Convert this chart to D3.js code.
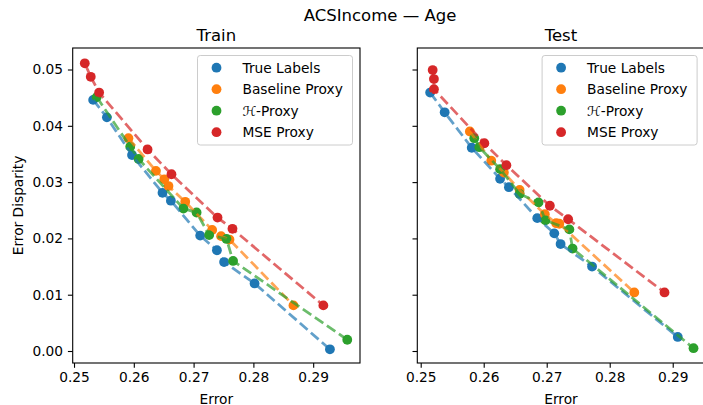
<!DOCTYPE html>
<html>
<head>
<meta charset="utf-8">
<script src="https://cdn.jsdelivr.net/npm/d3@7"></script>
<style>
  body { margin: 0; background: #fff; }
  svg { font-family: "DejaVu Sans", sans-serif; }
</style>
</head>
<body>
<div id="chart"></div>
<script>
// ---- data (error, error disparity) ----
const seriesNames = ["True Labels", "Baseline Proxy", "ℋ-Proxy", "MSE Proxy"];
const seriesColors = ["#1f77b4", "#ff7f0e", "#2ca02c", "#d62728"];

// Train
const trainTrueErr = [0.2532, 0.2555, 0.2597, 0.2648, 0.2662, 0.2711, 0.2739, 0.2751, 0.2802, 0.2928];
const trainTrueDisp = [0.0446, 0.0415, 0.0348, 0.0281, 0.0267, 0.0205, 0.0179, 0.0158, 0.0120, 0.0003];
const trainBaseErr = [0.2591, 0.2637, 0.2651, 0.2658, 0.2686, 0.2731, 0.2746, 0.2760, 0.2867];
const trainBaseDisp = [0.0378, 0.0320, 0.0305, 0.0293, 0.0265, 0.0215, 0.0204, 0.0198, 0.0081];
const trainHErr = [0.2538, 0.2594, 0.2608, 0.2683, 0.2705, 0.2726, 0.2755, 0.2766, 0.2957];
const trainHDisp = [0.0451, 0.0363, 0.0341, 0.0253, 0.0246, 0.0206, 0.0199, 0.0160, 0.0020];
const trainMseErr = [0.2518, 0.2528, 0.2542, 0.2623, 0.2663, 0.2740, 0.2765, 0.2917];
const trainMseDisp = [0.0511, 0.0487, 0.0459, 0.0358, 0.0314, 0.0237, 0.0217, 0.0081];

// Test
const testTrueErr = [0.2515, 0.2538, 0.2581, 0.2626, 0.2640, 0.2685, 0.2712, 0.2722, 0.2772, 0.2908];
const testTrueDisp = [0.0459, 0.0424, 0.0361, 0.0306, 0.0291, 0.0236, 0.0209, 0.0190, 0.0150, 0.0025];
const testBaseErr = [0.2578, 0.2612, 0.2632, 0.2657, 0.2697, 0.2715, 0.2720, 0.2839];
const testBaseDisp = [0.0390, 0.0338, 0.0317, 0.0286, 0.0243, 0.0227, 0.0226, 0.0104];
const testHErr = [0.2585, 0.2593, 0.2626, 0.2657, 0.2687, 0.2698, 0.2736, 0.2741, 0.2933];
const testHDisp = [0.0378, 0.0362, 0.0323, 0.0279, 0.0264, 0.0232, 0.0216, 0.0182, 0.0005];
const testMseErr = [0.2519, 0.2521, 0.2521, 0.2601, 0.2636, 0.2705, 0.2734, 0.2887];
const testMseDisp = [0.0499, 0.0483, 0.0465, 0.0369, 0.0330, 0.0258, 0.0234, 0.0104];

const xTicks = [0.25, 0.26, 0.27, 0.28, 0.29];
const yTicks = [0.00, 0.01, 0.02, 0.03, 0.04, 0.05];

const zip = (xs, ys) => xs.map((x, i) => ({ x: x, y: ys[i] }));

const panels = [
  {
    title: "Train",
    left: 72.7,
    xDomain: [0.24978, 0.29783],
    showYLabels: true,
    series: [
      zip(trainTrueErr, trainTrueDisp),
      zip(trainBaseErr, trainBaseDisp),
      zip(trainHErr, trainHDisp),
      zip(trainMseErr, trainMseDisp),
    ],
  },
  {
    title: "Test",
    left: 417.3,
    xDomain: [0.24946, 0.29506],
    showYLabels: false,
    series: [
      zip(testTrueErr, testTrueDisp),
      zip(testBaseErr, testBaseDisp),
      zip(testHErr, testHDisp),
      zip(testMseErr, testMseDisp),
    ],
  },
];

const width = 703;
const height = 405;
const axW = 287.3;
const axTop = 48;
const axBottom = 363;
const fs = 13.75;
const markerR = 4.9;

const svg = d3
  .select("#chart")
  .append("svg")
  .attr("width", width)
  .attr("height", height)
  .attr("viewBox", [0, 0, width, height]);

// shared y scale
const yScale = d3.scaleLinear().domain([-0.00213, 0.05382]).range([axBottom, axTop]);

svg
  .append("text")
  .attr("x", 380)
  .attr("y", 21)
  .attr("text-anchor", "middle")
  .style("font-size", "16.5px")
  .text("ACSIncome — Age");

panels.forEach((p) => {
  const xScale = d3.scaleLinear().domain(p.xDomain).range([p.left, p.left + axW]);

  const g = svg.append("g");

  // clip to the axes area
  const clipId = "clip-" + p.title;
  svg
    .append("clipPath")
    .attr("id", clipId)
    .append("rect")
    .attr("x", p.left)
    .attr("y", axTop)
    .attr("width", axW)
    .attr("height", axBottom - axTop);

  const plot = g.append("g").attr("clip-path", `url(#${clipId})`);

  // scatter first, dashed lines above (matplotlib zorder)
  p.series.forEach((pts, si) => {
    plot
      .append("g")
      .selectAll("circle")
      .data(pts)
      .join("circle")
      .attr("cx", (d) => xScale(d.x))
      .attr("cy", (d) => yScale(d.y))
      .attr("r", markerR)
      .attr("fill", seriesColors[si]);
  });

  const line = d3
    .line()
    .x((d) => xScale(d.x))
    .y((d) => yScale(d.y));

  p.series.forEach((pts, si) => {
    plot
      .append("path")
      .datum(pts)
      .attr("d", line)
      .attr("fill", "none")
      .attr("stroke", seriesColors[si])
      .attr("stroke-width", 2.75)
      .attr("stroke-opacity", 0.7)
      .attr("stroke-dasharray", "10.2,4.4");
  });

  // x axis
  const xAxis = g
    .append("g")
    .attr("transform", `translate(0,${axBottom})`)
    .call(d3.axisBottom(xScale).tickValues(xTicks).tickFormat(d3.format(".2f")).tickSizeOuter(0).tickSize(4.8).tickPadding(4.8));

  // y axis
  const yAxis = g
    .append("g")
    .attr("transform", `translate(${p.left},0)`)
    .call(
      d3
        .axisLeft(yScale)
        .tickValues(yTicks)
        .tickFormat(p.showYLabels ? d3.format(".2f") : () => "")
        .tickSizeOuter(0)
        .tickSize(4.8)
        .tickPadding(4.8)
    );

  [xAxis, yAxis].forEach((ax) => {
    ax.select(".domain").remove();
    ax.selectAll(".tick line").attr("stroke", "#000").attr("stroke-width", 1.1);
    ax.selectAll(".tick text")
      .attr("fill", "#000")
      .style("font-size", fs + "px")
      .style("font-family", "DejaVu Sans, sans-serif");
  });

  // frame
  g.append("rect")
    .attr("x", p.left)
    .attr("y", axTop)
    .attr("width", axW)
    .attr("height", axBottom - axTop)
    .attr("fill", "none")
    .attr("stroke", "#000")
    .attr("stroke-width", 1.1);

  // titles
  g.append("text")
    .attr("x", p.left + axW / 2)
    .attr("y", 41)
    .attr("text-anchor", "middle")
    .style("font-size", "16.5px")
    .text(p.title);

  g.append("text")
    .attr("x", p.left + axW / 2)
    .attr("y", 403.5)
    .attr("text-anchor", "middle")
    .style("font-size", fs + "px")
    .text("Error");

  if (p.showYLabels) {
    g.append("text")
      .attr("transform", `translate(23,${(axTop + axBottom) / 2}) rotate(-90)`)
      .attr("text-anchor", "middle")
      .style("font-size", fs + "px")
      .text("Error Disparity");
  }

  // legend
  const legW = 155;
  const legH = 89.5;
  const legX = p.left + axW - 7.5 - legW;
  const legY = axTop + 7.5;
  const leg = g.append("g").attr("transform", `translate(${legX},${legY})`);
  leg
    .append("rect")
    .attr("width", legW)
    .attr("height", legH)
    .attr("rx", 2.75)
    .attr("fill", "#fff")
    .attr("fill-opacity", 0.8)
    .attr("stroke", "#cccccc")
    .attr("stroke-width", 1);

  seriesNames.forEach((name, i) => {
    const cy = 12.2 + i * 21.5;
    leg
      .append("circle")
      .attr("cx", 19)
      .attr("cy", cy)
      .attr("r", markerR)
      .attr("fill", seriesColors[i]);
    leg
      .append("text")
      .attr("x", 45)
      .attr("y", cy + 5)
      .style("font-size", fs + "px")
      .text(name);
  });
});
</script>
</body>
</html>
